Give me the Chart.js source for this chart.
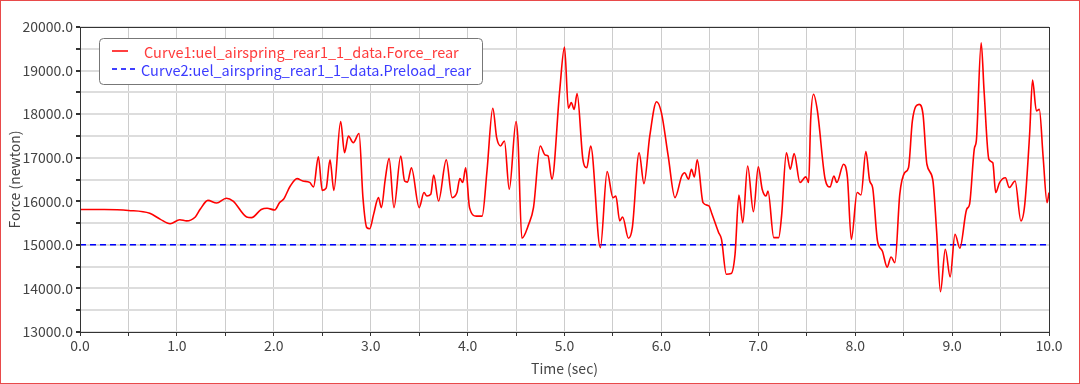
<!DOCTYPE html>
<html lang="en">
<head>
  <meta charset="UTF-8">
  <title>Force_rear vs Time</title>
  <style>
    body {
      margin: 0;
      background: #fff;
    }
    .frame {
      width: 1080px;
      height: 384px;
      box-sizing: border-box;
      border: 1px solid #e84a4a; /* red outer frame */
    }
    canvas {
      display: block;
    }
  </style>
</head>
<body>
  <div class="frame">
    <canvas id="forceChart" width="1078" height="382"></canvas>
  </div>

  <script src="https://cdn.jsdelivr.net/npm/chart.js"></script>

  <script>
    // Curve1 (time in sec, force in newton)
    const timeSec = [
      0.00, 0.25, 0.50, 0.72, 0.83, 0.93, 1.03, 1.10, 1.19, 1.24, 1.32, 1.41, 1.51, 1.58, 1.72, 1.77, 1.87, 1.93,
      2.01, 2.06, 2.10, 2.17, 2.24, 2.30, 2.37, 2.41, 2.46, 2.50, 2.54, 2.58, 2.62, 2.69, 2.73, 2.77, 2.82, 2.88, 2.92, 2.96, 2.99,
      3.03, 3.08, 3.11, 3.15, 3.19, 3.24, 3.31, 3.35, 3.38, 3.42, 3.50, 3.55, 3.58, 3.62, 3.65, 3.70, 3.78, 3.84, 3.89, 3.92, 3.95, 3.98,
      4.02, 4.09, 4.15, 4.20, 4.26, 4.30, 4.34, 4.38, 4.43, 4.50, 4.52, 4.56, 4.63, 4.68, 4.75, 4.80, 4.83, 4.87, 4.95,
      5.00, 5.04, 5.07, 5.10, 5.13, 5.19, 5.23, 5.27, 5.37, 5.44, 5.50, 5.53, 5.57, 5.60, 5.66, 5.70, 5.77, 5.82, 5.88, 5.95,
      6.00, 6.07, 6.14, 6.21, 6.24, 6.28, 6.31, 6.34, 6.37, 6.43, 6.49, 6.52, 6.59, 6.62, 6.67, 6.72, 6.76, 6.80, 6.84, 6.89, 6.95,
      7.00, 7.04, 7.08, 7.10, 7.16, 7.21, 7.24, 7.29, 7.33, 7.37, 7.43, 7.49, 7.52, 7.54, 7.57, 7.61, 7.69, 7.74, 7.78, 7.81, 7.88, 7.92, 7.96,
      8.02, 8.06, 8.11, 8.15, 8.18, 8.23, 8.28, 8.33, 8.37, 8.41, 8.46, 8.51, 8.55, 8.59, 8.66, 8.70, 8.74, 8.80, 8.84, 8.88, 8.93, 8.98,
      9.03, 9.08, 9.15, 9.18, 9.23, 9.25, 9.30, 9.33, 9.38, 9.42, 9.45, 9.49, 9.55, 9.59, 9.65, 9.71, 9.75, 9.80, 9.83, 9.87, 9.90, 9.94, 9.98,
      10.00
    ];
    const forceRear = [
      15810, 15810, 15790, 15725, 15585, 15485, 15577, 15550, 15640, 15815, 16020, 15960, 16070, 16005, 15640, 15625, 15810, 15840,
      15800, 15970, 16045, 16350, 16520, 16465, 16435, 16330, 17020, 16250, 16300, 16950, 16250, 17830, 17115, 17500, 17345, 17555, 16085, 15395, 15370,
      15700, 16085, 15855, 16505, 16985, 15855, 17040, 16465, 16440, 16770, 15855, 16200, 16120, 16160, 16605, 16005, 16950, 16085, 16200, 16520, 16430, 16770,
      15855, 15660, 15660, 16695, 18135, 17460, 17270, 17385, 16275, 17830, 17400, 15150, 15470, 15855, 17270, 17060, 17040, 16505, 18530,
      19540, 18135, 18265, 18110, 18470, 16960, 16770, 17270, 14935, 16680, 16085, 16120, 15550, 15640, 15150, 15395, 17115, 16405, 17500, 18285,
      18035, 17040, 16085, 16580, 16655, 16505, 16735, 16560, 16950, 15970, 15895, 15720, 15285, 15130, 14325, 14340, 14785, 16145, 15510, 16810, 15760,
      16790, 16275, 16120, 16235, 15165, 15165, 15660, 17115, 16735, 17095, 16430, 16560, 16430, 17845, 18455, 18075, 16505, 16330, 16580, 16430, 16850, 16540, 15125,
      16200, 16145, 17140, 16465, 16315, 15090, 14860, 14490, 14720, 14590, 16160, 16655, 16770, 17845, 18225, 17995, 16850, 16505, 15320, 13925, 14900, 14265,
      15245, 14925, 15815, 15930, 17215, 17385, 19640, 18530, 16960, 16885, 16200, 16430, 16540, 16315, 16465, 15550, 15930, 17540, 18780, 18075, 18110, 17000, 15970,
      16200
    ];

    // Curve2: constant preload
    const preloadTime = [0, 10];
    const preloadRear = [15000, 15000];

    const labelForce = 'Curve1:uel_airspring_rear1_1_data.Force_rear';
    const labelPreload = 'Curve2:uel_airspring_rear1_1_data.Preload_rear';

    const fontFamily = '"Noto Sans CJK JP", "Noto Sans", sans-serif';

    // legend box drawn inside the plot, top left
    const insideLegend = {
      id: 'insideLegend',
      afterDatasetsDraw(chart) {
        const ctx = chart.ctx;
        const items = chart.data.datasets;
        const x0 = 98, y0 = 37, w = 383, h = 46;
        ctx.save();
        ctx.beginPath();
        ctx.roundRect(x0 + 0.5, y0 + 0.5, w, h, 4);
        ctx.fillStyle = '#fff';
        ctx.fill();
        ctx.strokeStyle = '#777';
        ctx.lineWidth = 1;
        ctx.stroke();

        ctx.font = '14.5px ' + fontFamily;
        ctx.textBaseline = 'middle';
        const rows = [
          { y: y0 + 13, x1: 111, x2: 127, tx: 143, dash: [], text: '#ff3b3b' },
          { y: y0 + 31, x1: 111, x2: 136, tx: 140, dash: [5, 4], text: '#3b3bff' }
        ];
        rows.forEach((r, i) => {
          ctx.beginPath();
          ctx.setLineDash(r.dash);
          ctx.strokeStyle = items[i].borderColor;
          ctx.lineWidth = 1.5;
          ctx.moveTo(r.x1, r.y);
          ctx.lineTo(r.x2, r.y);
          ctx.stroke();
          ctx.setLineDash([]);
          ctx.fillStyle = r.text;
          ctx.fillText(items[i].label, r.tx, r.y + 1);
        });
        ctx.restore();
      }
    };

    // dark box round the plot area
    const plotBox = {
      id: 'plotBox',
      afterDraw(chart) {
        const a = chart.chartArea;
        const ctx = chart.ctx;
        ctx.save();
        ctx.strokeStyle = '#333';
        ctx.lineWidth = 1;
        ctx.strokeRect(Math.round(a.left) + 0.5, Math.round(a.top) + 0.5,
          Math.round(a.right - a.left), Math.round(a.bottom - a.top));
        ctx.restore();
      }
    };

    const ctx = document.getElementById('forceChart').getContext('2d');

    new Chart(ctx, {
      type: 'line',
      data: {
        datasets: [{
          label: labelForce,
          data: timeSec.map((t, i) => ({ x: t, y: forceRear[i] })),
          borderColor: '#ff0000',
          borderWidth: 1.6,
          pointRadius: 0,
          cubicInterpolationMode: 'monotone',
          fill: false
        }, {
          label: labelPreload,
          data: preloadTime.map((t, i) => ({ x: t, y: preloadRear[i] })),
          borderColor: '#0000ff',
          borderWidth: 1.5,
          borderDash: [6, 4],
          pointRadius: 0,
          fill: false
        }]
      },
      options: {
        responsive: false,
        animation: false,
        layout: {
          padding: { left: 0, top: 26, right: 30, bottom: 0 }
        },
        plugins: {
          legend: { display: false },
          tooltip: { enabled: false }
        },
        scales: {
          x: {
            type: 'linear',
            min: 0,
            max: 10,
            afterFit: s => { s.height = 51; },
            grid: {
              color: '#cccccc',
              lineWidth: 1,
              tickColor: '#333',
              tickLength: 4
            },
            border: { display: false },
            ticks: {
              stepSize: 0.5,
              autoSkip: false,
              maxRotation: 0,
              padding: 1,
              color: '#444',
              font: { family: fontFamily, size: 14 },
              callback: v => (Math.abs(v - Math.round(v)) < 1e-6 ? v.toFixed(1) : '')
            },
            title: {
              display: true,
              text: 'Time (sec)',
              color: '#444',
              font: { family: fontFamily, size: 14 },
              padding: { top: 0, bottom: 6 }
            }
          },
          y: {
            min: 13000,
            max: 20000,
            afterFit: s => { s.width = 79; },
            grid: {
              color: '#dddddd',
              lineWidth: 2,
              tickColor: '#333',
              tickLength: 4
            },
            border: { display: false },
            ticks: {
              stepSize: 500,
              padding: 3,
              color: '#444',
              font: { family: fontFamily, size: 14 },
              callback: v => (v % 1000 === 0 ? v.toFixed(1) : '')
            },
            title: {
              display: true,
              text: 'Force (newton)',
              color: '#444',
              font: { family: fontFamily, size: 14 },
              padding: { top: 5, bottom: 0 }
            }
          }
        }
      },
      plugins: [insideLegend, plotBox]
    });
  </script>
</body>
</html>
